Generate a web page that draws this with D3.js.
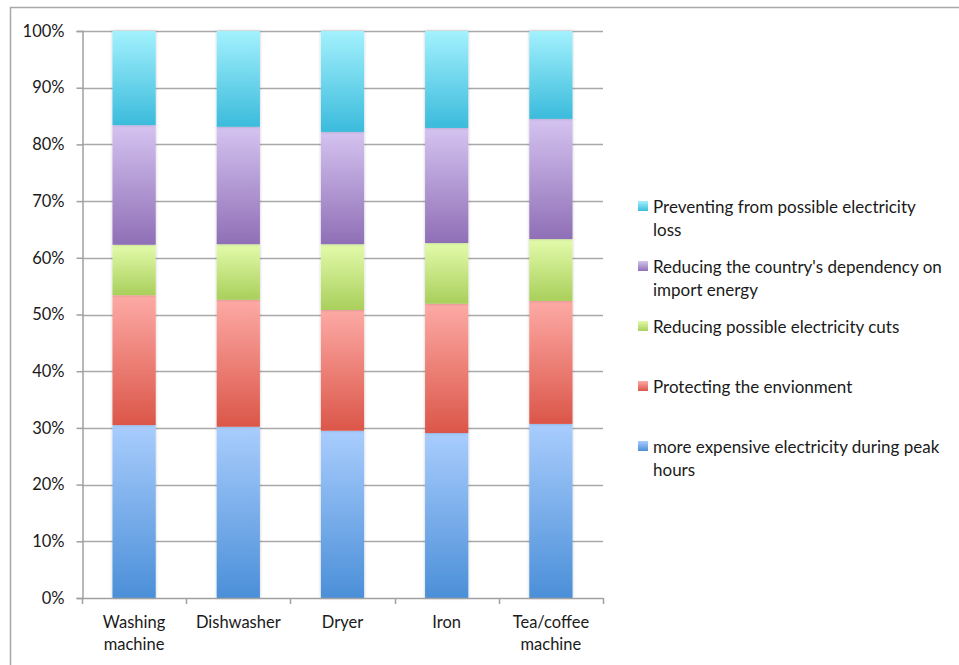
<!DOCTYPE html>
<html>
<head>
<meta charset="utf-8">
<script src="https://cdn.jsdelivr.net/npm/d3@7"></script>
<style>
  body { margin: 0; background: #fff; }
  text { font-family: Lato, "Open Sans", sans-serif; fill: #1a1a1a; }
</style>
</head>
<body>
<svg id="chart" width="959" height="665"></svg>
<script>
// data (percent of each bar)
var categories = ["Washing machine", "Dishwasher", "Dryer", "Iron", "Tea/coffee machine"];
var seriesNames = [
    "more expensive electricity during peak hours",
    "Protecting the envionment",
    "Reducing possible electricity cuts",
    "Reducing the country's dependency on import energy",
    "Preventing from possible electricity loss"
];
var peakHours   = [30.5, 30.2, 29.5, 29.1, 30.7];
var environment = [22.9, 22.4, 21.3, 22.8, 21.7];
var cuts        = [8.9, 9.8, 11.6, 10.7, 10.9];
var dependency  = [21.1, 20.7, 19.8, 20.3, 21.2];
var loss        = [16.6, 16.9, 17.8, 17.1, 15.5];
var yTicks = [0, 10, 20, 30, 40, 50, 60, 70, 80, 90, 100];

var seriesValues = [peakHours, environment, cuts, dependency, loss];
var gradColors = [
    ["#a9cdfd", "#4b8fd8"],
    ["#fdaaa5", "#db5649"],
    ["#e3fbab", "#a9cf5b"],
    ["#d5c3f0", "#8f6fb6"],
    ["#a3f1fd", "#3bbbdc"]
];

var svg = d3.select("#chart"),
    width = +svg.attr("width"),
    height = +svg.attr("height");

var plotLeft = 82, plotRight = 603, plotTop = 31, plotBottom = 598;
var fontSize = "16.5px";
var legendFontSize = "17px";

var table = categories.map(function (c, i) {
    var row = { cat: c };
    seriesValues.forEach(function (s, k) { row["s" + k] = s[i]; });
    return row;
});
var keys = seriesValues.map(function (s, k) { return "s" + k; });
var stacked = d3.stack().keys(keys)(table);

var x = d3.scaleBand().domain(categories).range([plotLeft, plotRight]).paddingInner(0.585).paddingOuter(0.2925);
var y = d3.scaleLinear().domain([0, 100]).range([plotBottom, plotTop]);

// outer frame
svg.append("path")
    .attr("d", "M10.5," + height + "V7.5H" + width)
    .attr("fill", "none")
    .attr("stroke", "#a8a8a8")
    .attr("stroke-width", 1.5);

var defs = svg.append("defs");
gradColors.forEach(function (g, k) {
    var lg = defs.append("linearGradient")
        .attr("id", "grad" + k)
        .attr("x1", 0).attr("y1", 0).attr("x2", 0).attr("y2", 1);
    lg.append("stop").attr("offset", "0%").attr("stop-color", g[0]);
    lg.append("stop").attr("offset", "100%").attr("stop-color", g[1]);
});
var shadow = defs.append("filter").attr("id", "shadow")
    .attr("x", "-20%").attr("y", "-5%").attr("width", "140%").attr("height", "110%");
shadow.append("feDropShadow")
    .attr("dx", 0).attr("dy", 0).attr("stdDeviation", 1.5)
    .attr("flood-color", "#000").attr("flood-opacity", 0.22);

// grid lines
svg.append("g")
    .selectAll("line")
    .data(yTicks.slice(1))
    .enter().append("line")
    .attr("x1", plotLeft).attr("x2", plotRight)
    .attr("y1", function (d) { return Math.round(y(d)) + 0.5; })
    .attr("y2", function (d) { return Math.round(y(d)) + 0.5; })
    .attr("stroke", "#a9a9a9")
    .attr("stroke-width", 1.5);

// y axis
var yAxis = svg.append("g")
    .attr("transform", "translate(" + (plotLeft + 0.5) + ",0)")
    .call(d3.axisLeft(y).tickValues(yTicks).tickSize(6).tickPadding(12)
        .tickFormat(function (d) { return d + "%"; }));
yAxis.select(".domain").attr("stroke", "#a0a0a0").attr("stroke-width", 1.5);
yAxis.selectAll(".tick line").attr("stroke", "#a0a0a0").attr("stroke-width", 1.5);
yAxis.selectAll("text").style("font-size", fontSize).attr("fill", "#1a1a1a");

// bars
svg.append("g")
    .selectAll("g")
    .data(stacked)
    .enter().append("g")
    .attr("fill", function (d, k) { return "url(#grad" + k + ")"; })
    .selectAll("rect")
    .data(function (d) { return d; })
    .enter().append("rect")
    .attr("x", function (d) { return x(d.data.cat); })
    .attr("width", x.bandwidth())
    .attr("y", function (d) { return y(d[1]); })
    .attr("height", function (d) { return y(d[0]) - y(d[1]); })
    .attr("filter", "url(#shadow)");

// x axis
var xTickPos = d3.range(categories.length + 1).map(function (i) {
    return plotLeft + i * (plotRight - plotLeft) / categories.length;
});
var xAxis = svg.append("g");
xAxis.append("line")
    .attr("x1", plotLeft).attr("x2", plotRight)
    .attr("y1", plotBottom + 0.5).attr("y2", plotBottom + 0.5)
    .attr("stroke", "#a0a0a0").attr("stroke-width", 1.5);
xAxis.selectAll(".xt")
    .data(xTickPos)
    .enter().append("line")
    .attr("x1", function (d) { return Math.round(d) + 0.5; })
    .attr("x2", function (d) { return Math.round(d) + 0.5; })
    .attr("y1", plotBottom).attr("y2", plotBottom + 6)
    .attr("stroke", "#a0a0a0").attr("stroke-width", 1.5);

var labelLines = {
    "Washing machine": ["Washing", "machine"],
    "Dishwasher": ["Dishwasher"],
    "Dryer": ["Dryer"],
    "Iron": ["Iron"],
    "Tea/coffee machine": ["Tea/coffee", "machine"]
};
var xl = xAxis.selectAll(".xl")
    .data(categories)
    .enter().append("text")
    .attr("text-anchor", "middle")
    .attr("x", function (d) { return x(d) + x.bandwidth() / 2; })
    .attr("y", 628)
    .style("font-size", fontSize);
xl.each(function (d) {
    var t = d3.select(this);
    labelLines[d].forEach(function (line, i) {
        t.append("tspan")
            .attr("x", x(d) + x.bandwidth() / 2)
            .attr("dy", i === 0 ? 0 : 22)
            .text(line);
    });
});

// legend (top series first)
var legendLines = [
    ["Preventing from possible electricity", "loss"],
    ["Reducing the country's dependency on", "import energy"],
    ["Reducing possible electricity cuts"],
    ["Protecting the envionment"],
    ["more expensive electricity during peak", "hours"]
];
var legend = svg.append("g")
    .selectAll("g")
    .data(legendLines)
    .enter().append("g")
    .attr("transform", function (d, i) { return "translate(638," + (201 + i * 60) + ")"; });
legend.append("rect")
    .attr("width", 10).attr("height", 10)
    .attr("fill", function (d, i) { return "url(#grad" + (4 - i) + ")"; });
legend.append("text")
    .attr("x", 15)
    .attr("y", 12)
    .style("font-size", legendFontSize)
    .each(function (d) {
        var t = d3.select(this);
        d.forEach(function (line, i) {
            t.append("tspan").attr("x", 15).attr("dy", i === 0 ? 0 : 23).text(line);
        });
    });
</script>
</body>
</html>
